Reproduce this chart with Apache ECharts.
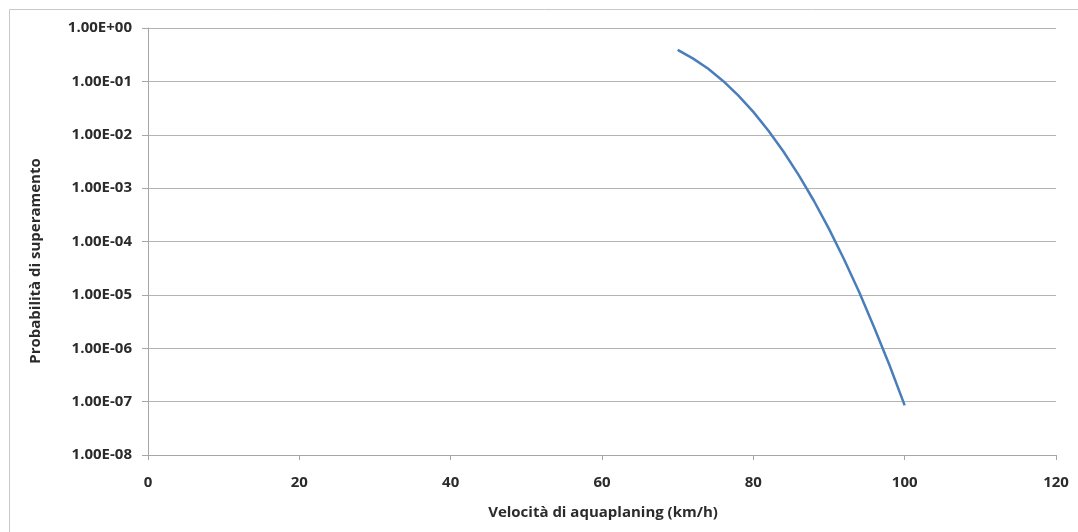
<!DOCTYPE html>
<html>
<head>
<meta charset="utf-8">
<script src="https://cdn.jsdelivr.net/npm/echarts@6/dist/echarts.min.js"></script>
<style>
  html, body { margin: 0; padding: 0; background: #fff; }
  #chart { width: 1078px; height: 532px; }
</style>
</head>
<body>
<div id="chart"></div>
<script>
// Aquaplaning speed (km/h) and the probability of it being exceeded
const speeds = [70, 72, 74, 76, 78, 80, 82, 84, 86, 88, 90, 92, 94, 96, 98, 100];
const exceedProb = [0.39, 0.27, 0.174, 0.102, 0.0548, 0.0268, 0.0119, 0.0048, 0.00175,
  0.00058, 1.72e-4, 4.6e-5, 1.12e-5, 2.4e-6, 4.8e-7, 8.5e-8];

// Y tick labels, one per decade from 1e0 down to 1e-8
const yTickLabels = ['1.00E+00', '1.00E-01', '1.00E-02', '1.00E-03', '1.00E-04',
  '1.00E-05', '1.00E-06', '1.00E-07', '1.00E-08'];

const xTitle = 'Velocità di aquaplaning (km/h)';
const yTitle = 'Probabilità di superamento';

const FONT = 'Open Sans';
const FS = 15;
const TEXT = '#2b2b2b';
const GRID = '#b4b4b4';
const AXIS = '#a6a6a6';

const chart = echarts.init(document.getElementById('chart'));
chart.setOption({
  animation: false,
  backgroundColor: '#fff',
  graphic: [
    {
      type: 'rect',
      shape: { x: 9.5, y: 9.5, width: 1200, height: 700 },
      style: { fill: 'none', stroke: '#c8c8c8', lineWidth: 1 },
      silent: true
    },
    {
      type: 'text',
      x: 603, y: 513,
      style: {
        text: xTitle, fontFamily: FONT, fontWeight: 'bold', fontSize: FS,
        fill: TEXT, align: 'center', verticalAlign: 'middle'
      },
      silent: true
    },
    {
      type: 'text',
      x: 36, y: 261,
      rotation: Math.PI / 2,
      style: {
        text: yTitle, fontFamily: FONT, fontWeight: 'bold', fontSize: FS,
        fill: TEXT, align: 'center', verticalAlign: 'middle'
      },
      silent: true
    }
  ],
  grid: { left: 148, right: 22, top: 28, bottom: 77 },
  xAxis: {
    type: 'value',
    min: 0, max: 120, interval: 20,
    axisLine: { lineStyle: { color: AXIS, width: 1 } },
    axisTick: { show: true, length: 5, lineStyle: { color: AXIS } },
    axisLabel: { fontFamily: FONT, fontWeight: 'bold', fontSize: FS, color: TEXT, margin: 20 },
    splitLine: { show: false }
  },
  yAxis: {
    type: 'log',
    logBase: 10,
    min: 1e-8, max: 1, interval: 1,
    axisLine: { show: true, lineStyle: { color: AXIS, width: 1 } },
    axisTick: { show: true, length: 6, lineStyle: { color: AXIS } },
    axisLabel: {
      fontFamily: FONT, fontWeight: 'bold', fontSize: FS, color: TEXT, margin: 16,
      formatter: function (v) {
        const e = Math.round(-Math.log10(v));
        return yTickLabels[e] !== undefined ? yTickLabels[e] : '';
      }
    },
    splitLine: { show: true, lineStyle: { color: GRID, width: 1 } }
  },
  series: [{
    type: 'line',
    data: speeds.map((s, i) => [s, exceedProb[i]]),
    showSymbol: false,
    smooth: false,
    lineStyle: { color: '#4a7ebb', width: 2.5 }
  }]
});
</script>
</body>
</html>
